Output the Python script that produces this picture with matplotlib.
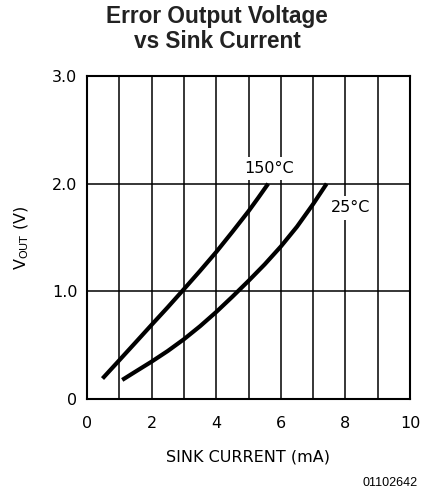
import matplotlib
matplotlib.use("Agg")
import matplotlib.pyplot as plt

# ==========================================
# data
# ==========================================
sink_150 = [0.48, 1.0, 1.5, 2.0, 2.5, 3.0, 3.5, 4.0, 4.5, 5.0, 5.3, 5.61]
vout_150 = [0.19, 0.36, 0.524, 0.689, 0.852, 1.02, 1.19, 1.365, 1.552, 1.744, 1.868, 2.0]

sink_25 = [1.09, 1.5, 2.0, 2.5, 3.0, 3.5, 4.0, 4.5, 5.0, 5.5, 6.0, 6.5, 7.0, 7.42]
vout_25 = [0.177, 0.254, 0.347, 0.446, 0.555, 0.676, 0.808, 0.95, 1.097, 1.25, 1.416, 1.60, 1.81, 2.0]

x_ticks = [0, 2, 4, 6, 8, 10]
x_ticklabels = ["0", "2", "4", "6", "8", "10"]
y_ticks = [0, 1, 2, 3]
y_ticklabels = ["0", "1.0", "2.0", "3.0"]

W, H = 422, 493
fig = plt.figure(figsize=(W / 100, H / 100), dpi=100)
ax = fig.add_axes([87 / W, 1 - 399 / H, 323 / W, 323 / H])

TICK_FONT = "DejaVu Sans"
FS = 11.5

# grid: every 1 mA, every 1 V
for xv in range(1, 10):
    ax.axvline(xv, color="black", lw=1.1, zorder=1)
for yv in (1, 2):
    ax.axhline(yv, color="black", lw=1.1, zorder=1)

ax.plot(sink_150, vout_150, color="black", lw=3.0, solid_capstyle="butt",
        solid_joinstyle="round", zorder=3)
ax.plot(sink_25, vout_25, color="black", lw=3.0, solid_capstyle="butt",
        solid_joinstyle="round", zorder=3)

box = dict(facecolor="white", edgecolor="none", pad=3.0)
ax.text(5.63, 2.14, "150°C", ha="center", va="center", fontsize=FS,
        family=TICK_FONT, bbox=box, zorder=2)
ax.text(8.16, 1.775, "25°C", ha="center", va="center", fontsize=FS,
        family=TICK_FONT, bbox=box, zorder=2)

ax.set_xlim(0, 10)
ax.set_ylim(0, 3)
ax.set_xticks(x_ticks)
ax.set_xticklabels(x_ticklabels, family=TICK_FONT, fontsize=FS)
ax.set_yticks(y_ticks)
ax.set_yticklabels(y_ticklabels, family=TICK_FONT, fontsize=FS)
ax.tick_params(axis="x", length=0, pad=12)
ax.tick_params(axis="y", length=0, pad=7)
for sp in ax.spines.values():
    sp.set_linewidth(1.5)

fig.text(248.5 / W, 1 - 457 / H, "SINK CURRENT (mA)", ha="center", va="center",
         fontsize=FS, family=TICK_FONT)
fig.text(22 / W, 1 - 237.5 / H, r"V$_{\mathregular{OUT}}$ (V)", ha="center", va="center",
         rotation=90, fontsize=FS, family=TICK_FONT)

fig.text(217 / W, 1 - 29 / H, "Error Output Voltage\nvs Sink Current", ha="center",
         va="center", fontsize=16.3, fontweight="bold", family="Liberation Sans",
         linespacing=1.1, color="#222222")
fig.text(418 / W, 1 - 483 / H, "01102642", ha="right", va="center",
         fontsize=9, family="Liberation Sans")

fig.savefig("out.png", dpi=100, facecolor="white")
